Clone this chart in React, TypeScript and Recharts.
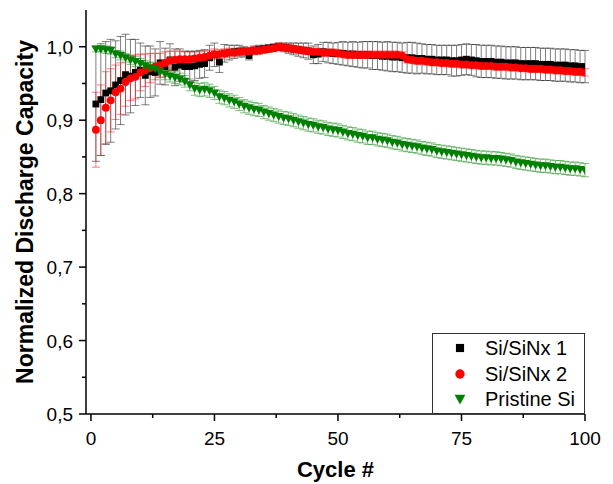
import { ScatterChart, Scatter, XAxis, YAxis, ErrorBar } from "recharts";

const FONT = "'Liberation Sans', Arial, sans-serif";

// cycle index 1..100
const cycles = Array.from({ length: 100 }, (_, i) => i + 1);

const siSiNx1 = [
  0.922, 0.928, 0.937, 0.94, 0.948, 0.954, 0.962, 0.96, 0.965, 0.968,
  0.961, 0.966, 0.965, 0.978, 0.973, 0.982, 0.972, 0.975, 0.973, 0.973,
  0.974, 0.976, 0.977, 0.985, 0.989, 0.979, 0.991, 0.992, 0.993, 0.994,
  0.993, 0.988, 0.995, 0.996, 0.997, 0.998, 0.999, 1.0, 0.999, 0.998,
  0.997, 0.996, 0.995, 0.994, 0.989, 0.99, 0.993, 0.992, 0.991, 0.991,
  0.991, 0.99, 0.99, 0.989, 0.989, 0.989, 0.988, 0.988, 0.987, 0.987,
  0.986, 0.986, 0.985, 0.985, 0.985, 0.984, 0.984, 0.983, 0.983, 0.982,
  0.982, 0.982, 0.981, 0.981, 0.982, 0.983, 0.982, 0.981, 0.98, 0.98,
  0.98, 0.979, 0.979, 0.978, 0.978, 0.978, 0.977, 0.977, 0.977, 0.977,
  0.976, 0.976, 0.976, 0.975, 0.975, 0.975, 0.974, 0.974, 0.973, 0.973,
];
const siSiNx1Err = [
  0.078, 0.076, 0.07, 0.07, 0.06, 0.06, 0.055, 0.05, 0.045, 0.037,
  0.04, 0.035, 0.032, 0.029, 0.025, 0.022, 0.025, 0.022, 0.021, 0.021,
  0.02, 0.019, 0.019, 0.017, 0.016, 0.014, 0.012, 0.01, 0.009, 0.008,
  0.007, 0.006, 0.006, 0.006, 0.005, 0.005, 0.005, 0.005, 0.006, 0.007,
  0.008, 0.009, 0.01, 0.011, 0.012, 0.013, 0.013, 0.014, 0.014, 0.015,
  0.016, 0.016, 0.017, 0.017, 0.018, 0.018, 0.019, 0.019, 0.019, 0.02,
  0.02, 0.02, 0.02, 0.021, 0.021, 0.021, 0.02, 0.02, 0.02, 0.02,
  0.02, 0.02, 0.021, 0.021, 0.021, 0.021, 0.021, 0.022, 0.022, 0.022,
  0.022, 0.022, 0.022, 0.022, 0.022, 0.022, 0.022, 0.022, 0.022, 0.022,
  0.022, 0.022, 0.022, 0.022, 0.022, 0.022, 0.022, 0.022, 0.022, 0.022,
];

const siSiNx2 = [
  0.887, 0.9, 0.917, 0.927, 0.938, 0.943, 0.952, 0.957, 0.959, 0.965,
  0.968, 0.971, 0.973, 0.975, 0.978, 0.981, 0.982, 0.983, 0.983, 0.983,
  0.984, 0.985, 0.986, 0.988, 0.99, 0.99, 0.991, 0.992, 0.992, 0.993,
  0.994, 0.994, 0.995, 0.995, 0.996, 0.997, 0.998, 1.0, 0.999, 0.998,
  0.997, 0.996, 0.995, 0.994, 0.993, 0.993, 0.992, 0.992, 0.992, 0.991,
  0.99, 0.989, 0.989, 0.989, 0.989, 0.989, 0.989, 0.989, 0.989, 0.989,
  0.989, 0.989, 0.988, 0.983, 0.982, 0.981, 0.981, 0.98, 0.979, 0.979,
  0.978, 0.978, 0.977, 0.977, 0.976, 0.976, 0.975, 0.975, 0.974, 0.974,
  0.974, 0.973, 0.973, 0.973, 0.972, 0.972, 0.971, 0.971, 0.97, 0.97,
  0.97, 0.969, 0.969, 0.968, 0.968, 0.967, 0.967, 0.966, 0.966, 0.965,
];
const siSiNx2Err = [
  0.051, 0.048, 0.049, 0.043, 0.037, 0.035, 0.033, 0.03, 0.03, 0.025,
  0.022, 0.02, 0.018, 0.016, 0.015, 0.013, 0.012, 0.011, 0.01, 0.01,
  0.009, 0.008, 0.008, 0.007, 0.007, 0.006, 0.006, 0.006, 0.005, 0.005,
  0.005, 0.005, 0.005, 0.005, 0.005, 0.005, 0.005, 0.005, 0.005, 0.005,
  0.005, 0.005, 0.005, 0.005, 0.005, 0.005, 0.005, 0.005, 0.005, 0.005,
  0.005, 0.005, 0.005, 0.005, 0.005, 0.005, 0.005, 0.005, 0.005, 0.005,
  0.005, 0.005, 0.005, 0.005, 0.005, 0.005, 0.005, 0.005, 0.005, 0.005,
  0.005, 0.005, 0.005, 0.005, 0.005, 0.005, 0.005, 0.005, 0.005, 0.005,
  0.005, 0.005, 0.005, 0.005, 0.005, 0.005, 0.005, 0.005, 0.005, 0.005,
  0.005, 0.005, 0.005, 0.005, 0.005, 0.005, 0.005, 0.005, 0.005, 0.005,
];

const pristineSi = [
  0.997, 0.997, 0.996, 0.995, 0.99, 0.988, 0.985, 0.982, 0.98, 0.977,
  0.974, 0.971, 0.97, 0.966, 0.963, 0.96, 0.958, 0.956, 0.953, 0.948,
  0.943, 0.941, 0.942, 0.94, 0.937, 0.932, 0.93, 0.927, 0.925, 0.922,
  0.919, 0.917, 0.915, 0.914, 0.911, 0.909, 0.907, 0.905, 0.903, 0.902,
  0.9, 0.898, 0.896, 0.894, 0.893, 0.891, 0.89, 0.888, 0.887, 0.886,
  0.884, 0.882, 0.881, 0.879, 0.878, 0.876, 0.876, 0.874, 0.873, 0.872,
  0.87, 0.869, 0.867, 0.866, 0.865, 0.864, 0.862, 0.861, 0.86, 0.858,
  0.857, 0.856, 0.855, 0.854, 0.853, 0.852, 0.851, 0.85, 0.849, 0.849,
  0.848, 0.848, 0.847, 0.846, 0.845, 0.843, 0.842, 0.841, 0.84, 0.839,
  0.838, 0.838, 0.837, 0.836, 0.836, 0.835, 0.834, 0.834, 0.833, 0.832,
];
const pristineSiErr = [
  0.004, 0.004, 0.005, 0.005, 0.005, 0.006, 0.006, 0.006, 0.007, 0.007,
  0.007, 0.008, 0.008, 0.008, 0.008, 0.008, 0.008, 0.008, 0.008, 0.008,
  0.009, 0.009, 0.009, 0.009, 0.009, 0.009, 0.009, 0.009, 0.009, 0.009,
  0.009, 0.009, 0.009, 0.009, 0.009, 0.009, 0.009, 0.009, 0.009, 0.009,
  0.009, 0.009, 0.009, 0.009, 0.009, 0.009, 0.009, 0.009, 0.009, 0.009,
  0.009, 0.009, 0.009, 0.009, 0.009, 0.009, 0.009, 0.009, 0.009, 0.009,
  0.009, 0.009, 0.009, 0.009, 0.009, 0.009, 0.009, 0.009, 0.009, 0.009,
  0.009, 0.009, 0.009, 0.009, 0.009, 0.009, 0.009, 0.009, 0.009, 0.009,
  0.009, 0.009, 0.009, 0.009, 0.009, 0.009, 0.009, 0.009, 0.009, 0.009,
  0.009, 0.009, 0.009, 0.009, 0.009, 0.009, 0.009, 0.009, 0.009, 0.009,
];

const xTicks = [0, 12.5, 25, 37.5, 50, 62.5, 75, 87.5, 100];
const xLabels = [0, 25, 50, 75, 100];
const yTicks = [0.5, 0.55, 0.6, 0.65, 0.7, 0.75, 0.8, 0.85, 0.9, 0.95, 1.0];
const yLabels = [0.5, 0.6, 0.7, 0.8, 0.9, 1.0];

type Kind = "square" | "circle" | "triangle";

const series: { name: string; values: number[]; errors: number[]; color: string; kind: Kind }[] = [
  { name: "Si/SiNx 1", values: siSiNx1, errors: siSiNx1Err, color: "#000000", kind: "square" },
  { name: "Si/SiNx 2", values: siSiNx2, errors: siSiNx2Err, color: "#ff0000", kind: "circle" },
  { name: "Pristine Si", values: pristineSi, errors: pristineSiErr, color: "#008000", kind: "triangle" },
];

const rows = (values: number[], errors: number[]) =>
  cycles.map((c, i) => ({ x: c, y: values[i], err: errors[i] }));

function Marker({ kind, cx, cy, color, s = 1 }: { kind: Kind; cx: number; cy: number; color: string; s?: number }) {
  if (kind === "square") return <rect x={cx - 3.4 * s} y={cy - 3.4 * s} width={6.8 * s} height={6.8 * s} fill={color} />;
  if (kind === "circle") return <circle cx={cx} cy={cy} r={3.9 * s} fill={color} />;
  return (
    <polygon
      points={`${cx - 4.5 * s},${cy - 3.5 * s} ${cx + 4.5 * s},${cy - 3.5 * s} ${cx},${cy + 4.5 * s}`}
      fill={color}
    />
  );
}

const isMajor = (v: number, list: number[]) => list.some((m) => Math.abs(m - v) < 1e-6);

// eslint-disable-next-line @typescript-eslint/no-explicit-any
function BottomTick({ x, y, payload }: any) {
  const major = isMajor(payload.value, xLabels);
  return (
    <g>
      <line x1={x} x2={x} y1={y} y2={y + (major ? 7 : 4)} stroke="#000" strokeWidth={1.5} />
      {major && (
        <text x={x} y={y + 31} textAnchor="middle" fontSize={19} fontFamily={FONT} fill="#000">
          {payload.value}
        </text>
      )}
    </g>
  );
}

// eslint-disable-next-line @typescript-eslint/no-explicit-any
function TopTick({ x, y, payload }: any) {
  const major = isMajor(payload.value, xLabels);
  return <line x1={x} x2={x} y1={y} y2={y + (major ? 6 : 4)} stroke="#000" strokeWidth={1.5} />;
}

// eslint-disable-next-line @typescript-eslint/no-explicit-any
function LeftTick({ x, y, payload }: any) {
  const major = isMajor(payload.value, yLabels);
  return (
    <g>
      <line x1={x} x2={x - (major ? 7 : 4)} y1={y} y2={y} stroke="#000" strokeWidth={1.5} />
      {major && (
        <text x={x - 13} y={y + 7} textAnchor="end" fontSize={19} fontFamily={FONT} fill="#000">
          {payload.value.toFixed(1).replace(".", ",")}
        </text>
      )}
    </g>
  );
}

// eslint-disable-next-line @typescript-eslint/no-explicit-any
function RightTick({ x, y, payload }: any) {
  const major = isMajor(payload.value, yLabels);
  return <line x1={x} x2={x - (major ? 6 : 4)} y1={y} y2={y} stroke="#000" strokeWidth={1.5} />;
}

// eslint-disable-next-line @typescript-eslint/no-explicit-any
function YTitle({ viewBox }: any) {
  const cx = viewBox.x + 33;
  const cy = viewBox.y + viewBox.height / 2;
  return (
    <text
      x={cx}
      y={cy}
      transform={`rotate(-90 ${cx} ${cy})`}
      textAnchor="middle"
      fontSize={23}
      fontWeight="bold"
      fontFamily={FONT}
      fill="#000"
    >
      Normalized Discharge Capacity
    </text>
  );
}

// eslint-disable-next-line @typescript-eslint/no-explicit-any
function XTitle({ viewBox }: any) {
  return (
    <text
      x={viewBox.x + viewBox.width / 2}
      y={viewBox.y + 63}
      textAnchor="middle"
      fontSize={22}
      fontWeight="bold"
      fontFamily={FONT}
      fill="#000"
    >
      Cycle #
    </text>
  );
}

const axisLine = { stroke: "#000", strokeWidth: 1.5 };

export default function App() {
  return (
    <div style={{ position: "absolute", left: 0, top: 0, width: 613, height: 484, background: "#fff" }}>
      <ScatterChart width={613} height={484} margin={{ top: 10, right: 28, bottom: 0, left: 0 }}>
        <XAxis
          type="number"
          dataKey="x"
          domain={[-1, 100]}
          ticks={xTicks}
          interval={0}
          tickSize={0}
          tickMargin={0}
          tickLine={false}
          tick={<BottomTick />}
          axisLine={axisLine}
          height={70}
          allowDataOverflow
          label={<XTitle />}
        />
        <XAxis
          xAxisId="top"
          orientation="top"
          type="number"
          domain={[-1, 100]}
          ticks={xTicks}
          interval={0}
          tickSize={0}
          tickMargin={0}
          tickLine={false}
          tick={<TopTick />}
          axisLine={axisLine}
          height={0}
          allowDataOverflow
        />
        <YAxis
          type="number"
          dataKey="y"
          domain={[0.5, 1.05]}
          ticks={yTicks}
          interval={0}
          tickSize={0}
          tickMargin={0}
          tickLine={false}
          tick={<LeftTick />}
          axisLine={axisLine}
          width={86}
          allowDataOverflow
          label={<YTitle />}
        />
        <YAxis
          yAxisId="right"
          orientation="right"
          type="number"
          domain={[0.5, 1.05]}
          ticks={yTicks}
          interval={0}
          tickSize={0}
          tickMargin={0}
          tickLine={false}
          tick={<RightTick />}
          axisLine={axisLine}
          width={0}
          allowDataOverflow
        />
        {series.map((s) => (
          <Scatter
            key={s.name}
            name={s.name}
            data={rows(s.values, s.errors)}
            isAnimationActive={false}
            // eslint-disable-next-line @typescript-eslint/no-explicit-any
            shape={(p: any) => <Marker kind={s.kind} cx={p.cx} cy={p.cy} color={s.color} />}
          >
            <ErrorBar
              dataKey="err"
              direction="y"
              width={4}
              stroke={s.color}
              strokeOpacity={0.5}
              strokeWidth={1}
              isAnimationActive={false}
            />
          </Scatter>
        ))}
      </ScatterChart>
      <div
        style={{
          position: "absolute",
          left: 432,
          top: 333,
          width: 153,
          height: 81,
          boxSizing: "border-box",
          border: "1px solid #333",
          background: "#fff",
          fontFamily: FONT,
          fontSize: 20,
          color: "#000",
        }}
      >
        {series.map((s, i) => (
          <div
            key={s.name}
            style={{ position: "absolute", left: 0, top: 2 + i * 25.6, height: 24, lineHeight: "24px", whiteSpace: "nowrap" }}
          >
            <svg width={40} height={24} style={{ position: "absolute", left: 7, top: 0 }}>
              <Marker kind={s.kind} cx={20} cy={12} color={s.color} s={1.2} />
            </svg>
            <span style={{ position: "absolute", left: 52, top: 0 }}>{s.name}</span>
          </div>
        ))}
      </div>
    </div>
  );
}
